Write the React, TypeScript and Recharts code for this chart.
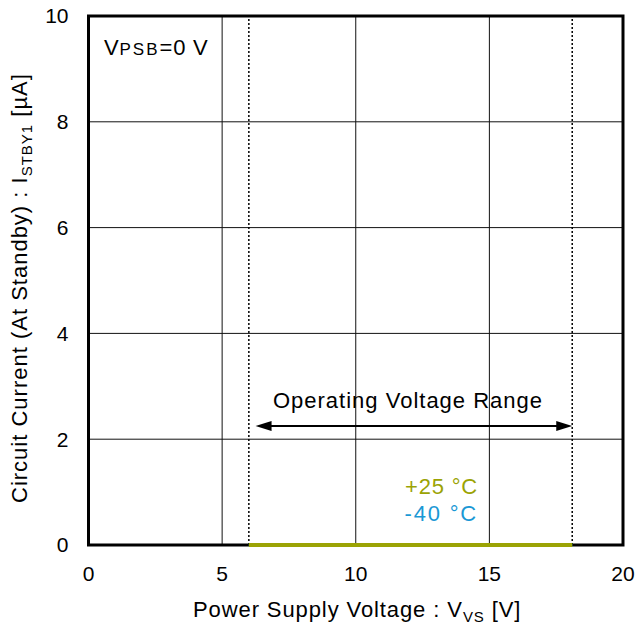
import { LineChart, Line, XAxis, YAxis, CartesianGrid, ReferenceLine, ReferenceArea } from "recharts"

// supply voltage sweep and standby current (µA)
const voltage = [6, 8, 10, 12, 14, 16, 18.1]
const current25 = [0, 0, 0, 0, 0, 0, 0]
const currentM40 = [0, 0, 0, 0, 0, 0, 0]

const xTicks = [0, 5, 10, 15, 20]
const yTicks = [0, 2, 4, 6, 8, 10]

// operating voltage range markers
const rangeBounds = [6, 18.1]
const arrowSpan = [6.25, 18.1]
const arrowLevel = 2.25

const OLIVE = "#9ba304"
const BLUE = "#1a98d5"
const FONT = "'Liberation Sans', Arial, sans-serif"

const data = voltage.map((v, i) => ({ v, t25: current25[i], tm40: currentM40[i] }))

// eslint-disable-next-line
const DoubleArrow = (p: any) => {
  const { x1, y1, x2, y2 } = p
  const head = 16
  const half = 5
  return (
    <g>
      <line x1={x1 + head - 2} y1={y1} x2={x2 - head + 2} y2={y2} stroke="#000" strokeWidth={2} />
      <polygon points={`${x1},${y1} ${x1 + head},${y1 - half} ${x1 + head},${y1 + half}`} fill="#000" />
      <polygon points={`${x2},${y2} ${x2 - head},${y2 - half} ${x2 - head},${y2 + half}`} fill="#000" />
    </g>
  )
}

export default function App() {
  return (
    <div style={{ position: "absolute", left: 0, top: 0, fontFamily: FONT }}>
      <LineChart
        width={638}
        height={630}
        data={data}
        margin={{ top: 16, right: 15, bottom: 0, left: 0 }}
        style={{ fontFamily: FONT }}
      >
        <CartesianGrid stroke="#111" strokeWidth={1} />
        <XAxis
          dataKey="v"
          type="number"
          domain={[0, 20]}
          ticks={xTicks}
          height={85}
          axisLine={false}
          tickLine={false}
          tickMargin={15}
          tick={{ fill: "#000", fontSize: 21 }}
        />
        <YAxis
          type="number"
          domain={[0, 10]}
          ticks={yTicks}
          width={88.5}
          axisLine={false}
          tickLine={false}
          tickMargin={14}
          tick={{ fill: "#000", fontSize: 21 }}
        />
        <ReferenceArea x1={0} x2={20} y1={0} y2={10} fill="none" stroke="#000" strokeWidth={3} fillOpacity={0} />
        {rangeBounds.map((b) => (
          <ReferenceLine key={b} x={b} stroke="#000" strokeWidth={1.5} strokeDasharray="2 2" />
        ))}
        <ReferenceLine
          segment={[
            { x: arrowSpan[0], y: arrowLevel },
            { x: arrowSpan[1], y: arrowLevel },
          ]}
          shape={DoubleArrow}
        />
        <Line dataKey="tm40" stroke={BLUE} strokeWidth={4} dot={false} isAnimationActive={false} />
        <Line dataKey="t25" stroke={OLIVE} strokeWidth={4} dot={false} isAnimationActive={false} />

        <text x={104} y={55} fontSize={22} fill="#000" letterSpacing={0.8}>
          V<tspan fontSize={17} letterSpacing={2}>PSB</tspan>=0 V
        </text>
        <text x={408} y={408} fontSize={22} fill="#000" textAnchor="middle" letterSpacing={1}>
          Operating Voltage Range
        </text>
        <text x={478} y={494} fontSize={22} fill={OLIVE} textAnchor="end" letterSpacing={0.8}>
          +25 °C
        </text>
        <text x={478} y={521} fontSize={22} fill={BLUE} textAnchor="end" letterSpacing={1.8}>
          -40 °C
        </text>
        <text x={193} y={617} fontSize={22} fill="#000" letterSpacing={0.9}>
          Power Supply Voltage : V
          <tspan fontSize={15} dy={5}>VS</tspan>
          <tspan dy={-5}> [V]</tspan>
        </text>
        <text
          transform="translate(27, 503) rotate(-90)"
          x={0}
          y={0}
          fontSize={22}
          fill="#000"
          letterSpacing={1}
        >
          Circuit Current (At Standby) : I
          <tspan fontSize={15} dy={5}>STBY1</tspan>
          <tspan dy={-5}> [µA]</tspan>
        </text>
      </LineChart>
    </div>
  )
}
